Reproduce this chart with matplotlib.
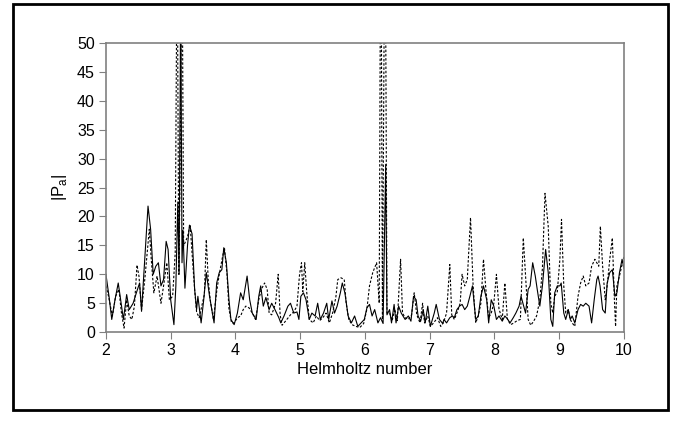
import matplotlib.pyplot as plt
from matplotlib.patches import Rectangle

# Solid curve (x, |Pa|)
solid_x = [2.00, 2.05, 2.09, 2.14, 2.19, 2.22, 2.27, 2.32, 2.36, 2.42, 2.47, 2.52, 2.55, 2.60, 2.65,
           2.69, 2.73, 2.77, 2.81, 2.85, 2.89, 2.93, 2.96, 3.00, 3.05, 3.08, 3.11, 3.13, 3.155, 3.175,
           3.19, 3.22, 3.26, 3.29, 3.33, 3.37, 3.40, 3.42, 3.47, 3.51, 3.55, 3.60, 3.67, 3.71, 3.75,
           3.79, 3.82, 3.86, 3.90, 3.93, 3.98, 4.03, 4.08, 4.12, 4.18, 4.22, 4.26, 4.32, 4.36, 4.39,
           4.43, 4.47, 4.52, 4.56, 4.61, 4.67, 4.70, 4.75, 4.81, 4.85, 4.90, 4.95, 4.98, 5.01, 5.05,
           5.09, 5.14, 5.18, 5.23, 5.27, 5.31, 5.36, 5.41, 5.44, 5.49, 5.53, 5.57, 5.62, 5.65, 5.69,
           5.74, 5.79, 5.84, 5.89, 5.94, 5.99, 6.03, 6.07, 6.11, 6.15, 6.20, 6.24, 6.28, 6.32, 6.34,
           6.38, 6.41, 6.45, 6.48, 6.52, 6.56, 6.62, 6.67, 6.71, 6.75, 6.79, 6.82, 6.86, 6.90, 6.93,
           6.97, 7.01, 7.07, 7.10, 7.15, 7.20, 7.22, 7.26, 7.31, 7.35, 7.38, 7.42, 7.46, 7.50, 7.54,
           7.58, 7.62, 7.66, 7.69, 7.71, 7.75, 7.79, 7.83, 7.88, 7.91, 7.95, 7.99, 8.03, 8.07, 8.12,
           8.16, 8.20, 8.24, 8.29, 8.33, 8.38, 8.41, 8.45, 8.48, 8.52, 8.55, 8.59, 8.63, 8.66, 8.70,
           8.74, 8.79, 8.83, 8.87, 8.90, 8.93, 8.97, 9.01, 9.03, 9.07, 9.10, 9.14, 9.17, 9.20, 9.24,
           9.29, 9.33, 9.37, 9.41, 9.46, 9.50, 9.54, 9.58, 9.60, 9.63, 9.67, 9.71, 9.74, 9.78, 9.82,
           9.86, 9.89, 9.93, 9.97, 10.0]
solid_y = [10, 6, 2.2, 5.6, 8.5, 6.2, 2.2, 6.5, 3.9, 5, 6.8, 8.5, 3.6, 12.6, 21.8,
           17.8, 10, 11.4, 12, 8, 9.1, 15.7, 14.3, 5.6, 1.3, 8, 22.5, 10, 60, 12,
           17.6, 7.6, 15, 18.5, 17, 7.4, 3.9, 6.2, 1.6, 5.6, 10.3, 6.2, 1.6, 8.5, 10.3,
           10.8, 14.6, 12, 5.6, 2.2, 1.3, 3.3, 6.8, 5.6, 9.7, 5.6, 3.3, 2.2, 6.2, 8,
           4.5, 6, 3.9, 5, 3.9, 2.5, 1.6, 2.8, 4.5, 5, 3.3, 3.5, 2.2, 6.2, 6.8,
           5.6, 2.2, 3.3, 2.8, 5, 2.2, 3.3, 5, 2.2, 5.4, 3.3, 4.5, 6.8, 8.5, 6.8,
           2.8, 1.6, 2.8, 1, 1.6, 2.2, 4.2, 4.8, 2.8, 3.9, 1.6, 2.5, 1.5, 29, 3,
           3.9, 1.6, 4.8, 1.6, 4.5, 3.3, 2.2, 2.8, 1.9, 6.2, 5.6, 2.8, 1.9, 3.9, 1.6,
           4.5, 1, 3.3, 4.8, 2.2, 1.5, 2.2, 1.6, 2.5, 2.8, 2.5, 3.9, 4.5, 4.8, 3.9,
           4.5, 6.2, 8, 4.5, 2.2, 2.8, 6.2, 8, 5.6, 1.6, 5.6, 4.5, 2.2, 2.8, 1.9,
           2.8, 2.3, 1.6, 2.5, 3.3, 4.5, 6.2, 4.5, 3.3, 7.4, 8, 12, 9.7, 7.4, 4.5,
           8, 14.3, 10.3, 2.2, 1, 6.8, 8, 8, 8.5, 3.3, 2.2, 3.9, 2.2, 2.8, 1.6,
           3.9, 4.8, 4.5, 5, 4.5, 1.6, 5.6, 9.1, 9.7, 8, 3.9, 3.3, 8.5, 10.3, 10.8,
           6.2, 6.8, 10.3, 12.6, 11]

# Dotted curve (x, |Pa|)
dash_x = [2.00, 2.04, 2.10, 2.15, 2.20, 2.24, 2.28, 2.32, 2.36, 2.40, 2.44, 2.48, 2.51, 2.55, 2.60,
          2.67, 2.70, 2.74, 2.79, 2.85, 2.89, 2.94, 2.98, 3.03, 3.07, 3.10, 3.125, 3.14, 3.175, 3.20,
          3.26, 3.30, 3.34, 3.37, 3.40, 3.44, 3.47, 3.52, 3.55, 3.58, 3.61, 3.66, 3.71, 3.75, 3.80,
          3.83, 3.87, 3.90, 3.94, 3.98, 4.03, 4.08, 4.12, 4.16, 4.21, 4.26, 4.31, 4.36, 4.40, 4.45,
          4.49, 4.52, 4.56, 4.62, 4.66, 4.69, 4.72, 4.78, 4.85, 4.90, 4.95, 4.99, 5.02, 5.04, 5.07,
          5.10, 5.14, 5.20, 5.25, 5.30, 5.35, 5.40, 5.45, 5.50, 5.55, 5.58, 5.63, 5.68, 5.71, 5.75,
          5.80, 5.86, 5.92, 5.98, 6.03, 6.07, 6.12, 6.18, 6.22, 6.245, 6.27, 6.31, 6.34, 6.38, 6.42,
          6.46, 6.50, 6.55, 6.58, 6.62, 6.67, 6.72, 6.76, 6.80, 6.85, 6.89, 6.92, 6.97, 7.01, 7.06,
          7.12, 7.17, 7.21, 7.26, 7.31, 7.34, 7.38, 7.43, 7.47, 7.50, 7.54, 7.58, 7.63, 7.67, 7.71,
          7.75, 7.79, 7.83, 7.87, 7.91, 7.95, 7.99, 8.03, 8.07, 8.12, 8.16, 8.20, 8.25, 8.30, 8.35,
          8.40, 8.445, 8.48, 8.52, 8.56, 8.60, 8.65, 8.70, 8.74, 8.78, 8.83, 8.87, 8.90, 8.93, 8.97,
          9.01, 9.035, 9.07, 9.10, 9.14, 9.17, 9.20, 9.24, 9.29, 9.33, 9.37, 9.41, 9.46, 9.50, 9.55,
          9.58, 9.61, 9.635, 9.67, 9.71, 9.74, 9.78, 9.82, 9.85, 9.87, 9.89, 9.93, 9.97, 10.0]
dash_y = [8, 6.2, 2.8, 6.2, 7.4, 3.3, 0.7, 5.6, 2.8, 2.2, 4.5, 11.6, 9.7, 3.9, 9.1,
          17.8, 12.6, 6.8, 9.7, 5, 8, 12, 5.6, 6.2, 13.7, 70, 10, 22, 70, 14.9,
          16.5, 18.6, 12, 7.4, 3.5, 2.5, 4, 6.5, 16, 9, 5.6, 2.2, 7, 10, 13,
          14.6, 10, 4, 1.6, 1.6, 2.5, 2.8, 3.9, 4.5, 4.2, 3.3, 2.2, 5.6, 7.4, 8.5,
          7.4, 3.3, 3, 5, 10, 3, 1.2, 2, 3, 3.5, 4.5, 10, 12, 7, 12,
          7, 2.2, 1.6, 2.8, 2, 2.5, 3.3, 1.6, 3.3, 6, 9.1, 9.4, 9.1, 5, 2.2,
          1.3, 1, 0.8, 1.5, 4, 8, 10.3, 12, 5, 80, 2.2, 80, 3.3, 3.3, 2,
          4, 2, 12.6, 3.3, 2.5, 2.2, 3, 6.8, 3, 1.6, 5, 1.6, 2.8, 1, 1.6,
          2.5, 1, 1.6, 3.3, 11.7, 3, 2.2, 3.6, 5, 10, 8, 9.1, 19.8, 8, 1.6,
          2.8, 5, 12.6, 7, 2.5, 3.3, 5, 10, 4, 2.2, 8.5, 2.2, 1.3, 1.6, 2,
          2.2, 16.3, 9.7, 2.2, 1.2, 1.8, 2.8, 5.6, 11, 24, 18.3, 5, 3.3, 6.2, 7,
          12.6, 19.5, 8, 3.3, 3.9, 2.2, 1.6, 1, 6.2, 8.5, 9.7, 8, 8.5, 11.4, 12.6,
          12, 11.4, 18.3, 11.4, 5.6, 8, 12.6, 16.3, 6, 1, 8, 9.7, 11.7, 13]

x_ticks = [2, 3, 4, 5, 6, 7, 8, 9, 10]
y_ticks = [0, 5, 10, 15, 20, 25, 30, 35, 40, 45, 50]

plt.rcParams['font.family'] = ['Liberation Sans', 'DejaVu Sans']

fig = plt.figure(figsize=(6.79, 4.21), dpi=100)
ax = fig.add_axes([0.156, 0.211, 0.763, 0.687])

ax.plot(solid_x, solid_y, color='black', linewidth=0.8)
ax.plot(dash_x, dash_y, color='black', linewidth=0.8, linestyle=(0, (2.2, 1.6)))

ax.set_xlim(2, 10)
ax.set_ylim(0, 50)
ax.set_xticks(x_ticks)
ax.set_yticks(y_ticks)
ax.tick_params(direction='out', length=5, width=0.8, color='#808080', labelsize=11.5, pad=3)
for s in ax.spines.values():
    s.set_color('#808080')
    s.set_linewidth(1.2)

ax.set_xlabel('Helmholtz number', fontsize=12, labelpad=3)
ax.set_ylabel('|P$_\\mathregular{a}$|', fontsize=12, labelpad=6)

# outer frame around the whole figure
fig.patches.append(Rectangle((13 / 679, 11 / 421), 655 / 679, 406 / 421, transform=fig.transFigure,
                             fill=False, edgecolor='black', linewidth=2))

fig.savefig('out.png', dpi=100)
